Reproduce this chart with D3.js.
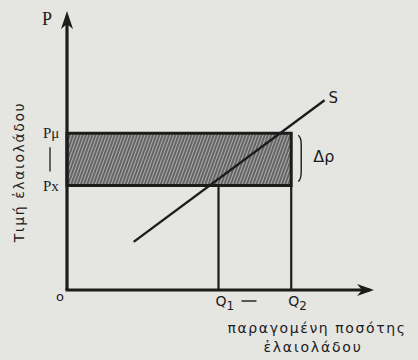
<!DOCTYPE html>
<html>
<head>
<meta charset="utf-8">
<script src="https://cdn.jsdelivr.net/npm/d3@7"></script>
<style>
  body { margin: 0; background: #e5e5e2; }
  svg { display: block; }
  text { fill: #1c1c1c; }
</style>
</head>
<body>
<svg id="chart" width="418" height="360"></svg>
<script>
// values (quantity and price in arbitrary units)
const quantities = [5.0, 7.4]          // Q1, Q2
const quantityLabels = ['Q', 'Q']
const quantitySubs = ['1', '2']
const prices = [3.8, 5.7]              // Px, Pμ
const priceLabels = ['Px', 'Pμ']
const supplyPoints = [[2.2, 1.75], [8.5, 6.9]]

const w = 418
const h = 360
const ink = '#1c1c1c'

const x = d3.scaleLinear().domain([0, 10]).range([67, 370])
const y = d3.scaleLinear().domain([0, 10]).range([290, 15])

const svg = d3.select('#chart')

// hatching for the shaded band
const defs = svg.append('defs')
defs.append('pattern')
    .attr('id', 'hatch')
    .attr('patternUnits', 'userSpaceOnUse')
    .attr('width', 3)
    .attr('height', 3)
    .attr('patternTransform', 'rotate(20)')
  .call(p => {
    p.append('rect').attr('width', 3).attr('height', 3).attr('fill', '#acacaa')
    p.append('line').attr('x1', 1).attr('y1', 0).attr('x2', 1).attr('y2', 3)
     .attr('stroke', '#3e3e3e').attr('stroke-width', 1.3)
  })

// shaded band between Px and Pμ up to Q2
svg.append('rect')
   .attr('x', x(0))
   .attr('y', y(prices[1]))
   .attr('width', x(quantities[1]) - x(0))
   .attr('height', y(prices[0]) - y(prices[1]))
   .attr('fill', 'url(#hatch)')
   .attr('stroke', ink)
   .attr('stroke-width', 3)

// vertical drop lines at Q1 and Q2
svg.selectAll('.drop')
   .data([[quantities[0], prices[0]], [quantities[1], prices[0]]])
   .enter()
   .append('line')
   .attr('x1', d => x(d[0]))
   .attr('x2', d => x(d[0]))
   .attr('y1', d => y(d[1]))
   .attr('y2', y(0))
   .attr('stroke', ink)
   .attr('stroke-width', 2.2)

// supply curve
svg.append('line')
   .attr('x1', x(supplyPoints[0][0]))
   .attr('y1', y(supplyPoints[0][1]))
   .attr('x2', x(supplyPoints[1][0]))
   .attr('y2', y(supplyPoints[1][1]))
   .attr('stroke', ink)
   .attr('stroke-width', 2.4)

svg.append('text')
   .attr('x', x(supplyPoints[1][0]) + 4)
   .attr('y', y(supplyPoints[1][1]) + 3)
   .attr('font-family', 'DejaVu Sans')
   .attr('font-size', 15)
   .text('S')

// axes with arrows
const arrow = (x1, y1, x2, y2) => {
  svg.append('line')
     .attr('x1', x1).attr('y1', y1).attr('x2', x2).attr('y2', y2)
     .attr('stroke', ink).attr('stroke-width', 3.2)
}
arrow(x(0), y(0), x(0), y(10) + 8)
arrow(x(0) - 1.5, y(0), x(10), y(0))
svg.append('path')
   .attr('d', `M${x(0)},${y(10) - 4} L${x(0) - 6},${y(10) + 14} L${x(0)},${y(10) + 9} L${x(0) + 6},${y(10) + 14} Z`)
   .attr('fill', ink)
svg.append('path')
   .attr('d', `M${x(10) + 4},${y(0)} L${x(10) - 13},${y(0) - 6} L${x(10) - 8},${y(0)} L${x(10) - 13},${y(0) + 6} Z`)
   .attr('fill', ink)

// axis letters
svg.append('text')
   .attr('x', x(0) - 25).attr('y', y(10) + 10)
   .attr('font-family', 'Liberation Serif').attr('font-size', 18)
   .text('P')
svg.append('text')
   .attr('x', x(0) - 11).attr('y', y(0) + 11)
   .attr('font-family', 'DejaVu Sans').attr('font-size', 13)
   .text('o')

// price labels
svg.selectAll('.plabel')
   .data(prices)
   .enter()
   .append('text')
   .attr('x', x(0) - 24)
   .attr('y', d => y(d) + 5)
   .attr('font-family', 'Liberation Serif')
   .attr('font-size', 15)
   .text((d, i) => priceLabels[i])
svg.append('line')
   .attr('x1', x(0) - 17).attr('x2', x(0) - 17)
   .attr('y1', y(prices[1]) + 14).attr('y2', y(prices[0]) - 14)
   .attr('stroke', ink).attr('stroke-width', 1.3)

// quantity labels
const ql = svg.selectAll('.qlabel')
   .data(quantities)
   .enter()
   .append('text')
   .attr('x', d => x(d) - 3)
   .attr('y', y(0) + 16)
   .attr('font-family', 'DejaVu Sans')
   .attr('font-size', 14)
ql.append('tspan').text((d, i) => quantityLabels[i])
ql.append('tspan').attr('dy', 4).attr('font-size', 12).text((d, i) => quantitySubs[i])
svg.append('line')
   .attr('x1', x(quantities[0]) + 23).attr('x2', x(quantities[0]) + 38)
   .attr('y1', y(0) + 11).attr('y2', y(0) + 11)
   .attr('stroke', ink).attr('stroke-width', 1.4)

// Δρ brace
const bx = x(quantities[1]) + 10
svg.append('path')
   .attr('d', `M${bx - 3},${y(prices[1]) + 2} Q${bx},${y(prices[1]) + 4} ${bx},${y(prices[1]) + 12} L${bx},${y(prices[0]) - 14} Q${bx},${y(prices[0]) - 6} ${bx - 3},${y(prices[0]) - 4}`)
   .attr('fill', 'none')
   .attr('stroke', ink)
   .attr('stroke-width', 1.4)
svg.append('text')
   .attr('x', bx + 12).attr('y', (y(prices[0]) + y(prices[1])) / 2 + 3)
   .attr('font-family', 'DejaVu Sans').attr('font-size', 16)
   .text('Δρ')

// axis titles
svg.append('text')
   .attr('x', 317).attr('y', 333)
   .attr('text-anchor', 'middle')
   .attr('font-family', 'DejaVu Sans').attr('font-size', 14)
   .attr('letter-spacing', 1.6)
   .text('παραγομένη ποσότης')
svg.append('text')
   .attr('x', 313).attr('y', 352)
   .attr('text-anchor', 'middle')
   .attr('font-family', 'DejaVu Sans').attr('font-size', 14)
   .attr('letter-spacing', 1.8)
   .text('ἐλαιολάδου')
svg.append('text')
   .attr('transform', 'translate(24,172) rotate(-90)')
   .attr('text-anchor', 'middle')
   .attr('font-family', 'DejaVu Sans').attr('font-size', 14)
   .attr('letter-spacing', 1.6)
   .text('Τιμή ἐλαιολάδου')
</script>
</body>
</html>
